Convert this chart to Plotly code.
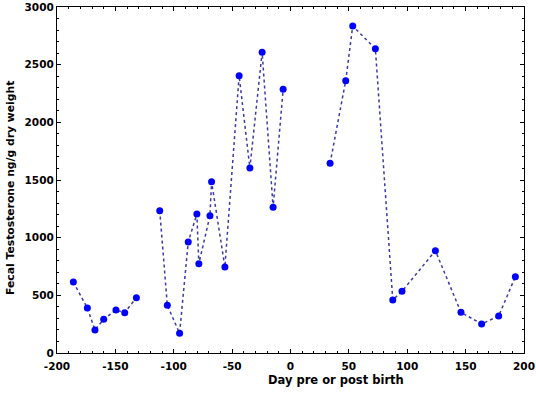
import plotly.graph_objects as go

days = [-186, -174, -167.5, -160, -149.5, -142, -132, None,
        -112, -105.5, -95, -87.6, -80.2, -78.5, -69, -67.6, -56.2, -44, -34.8, -24.3, -14.9, -6.3, None,
        33.9, 47.3, 53.3, 72.7, 87.6, 95.5, 124.1, 146, 163.7, 178.3, 192.6]
testosterone = [615, 390, 200, 292, 373, 350, 480, None,
                1234, 413, 171, 962, 1205, 774, 1190, 1485, 746, 2404, 1604, 2607, 1263, 2286, None,
                1645, 2361, 2835, 2638, 460, 535, 887, 353, 251, 321, 662]

x_ticks = [-200, -150, -100, -50, 0, 50, 100, 150, 200]
y_ticks = [0, 500, 1000, 1500, 2000, 2500, 3000]

fig = go.Figure()
fig.add_trace(go.Scatter(
    x=days, y=testosterone, mode="lines+markers",
    connectgaps=False,
    line=dict(color="#3a3aa8", width=1.5, dash="dot"),
    marker=dict(color="#0000ff", size=7, symbol="circle"),
))

font_family = "DejaVu Sans"
axis_common = dict(
    showline=True, linecolor="black", linewidth=1.2, mirror="ticks",
    ticks="inside", ticklen=4, tickcolor="black", tickwidth=1,
    showgrid=False, zeroline=False,
    tickfont=dict(family=font_family, size=10.5, color="black", weight="bold"),
)

fig.update_layout(
    width=536, height=397,
    margin=dict(l=57, r=12, t=7, b=44, autoexpand=False),
    paper_bgcolor="white", plot_bgcolor="white",
    showlegend=False,
    xaxis=dict(range=[-200, 200], tickvals=x_ticks, ticktext=[str(v) for v in x_ticks],
               minor=dict(ticks="inside", ticklen=2, dtick=10, tickcolor="black", showgrid=False),
               ticklabelstandoff=3,
               **axis_common),
    yaxis=dict(range=[0, 3000], tickvals=y_ticks, ticktext=[str(v) for v in y_ticks],
               minor=dict(ticks="inside", ticklen=2, dtick=100, tickcolor="black", showgrid=False),
               **axis_common),
    annotations=[
        dict(text="Day pre or post birth", xref="paper", yref="paper",
             x=0.597, y=-0.078, xanchor="center", yanchor="middle", showarrow=False,
             font=dict(family=font_family, size=11.5, color="black", weight="bold")),
        dict(text="Fecal Testosterone ng/g dry weight", xref="paper", yref="paper",
             x=-0.0985, y=0.477, xanchor="center", yanchor="middle", showarrow=False,
             textangle=-90,
             font=dict(family=font_family, size=10.8, color="black", weight="bold")),
    ],
)

fig.write_html("out.html", config={"displayModeBar": False},
               post_script="document.body.style.margin='0px';document.body.style.overflow='hidden';")
